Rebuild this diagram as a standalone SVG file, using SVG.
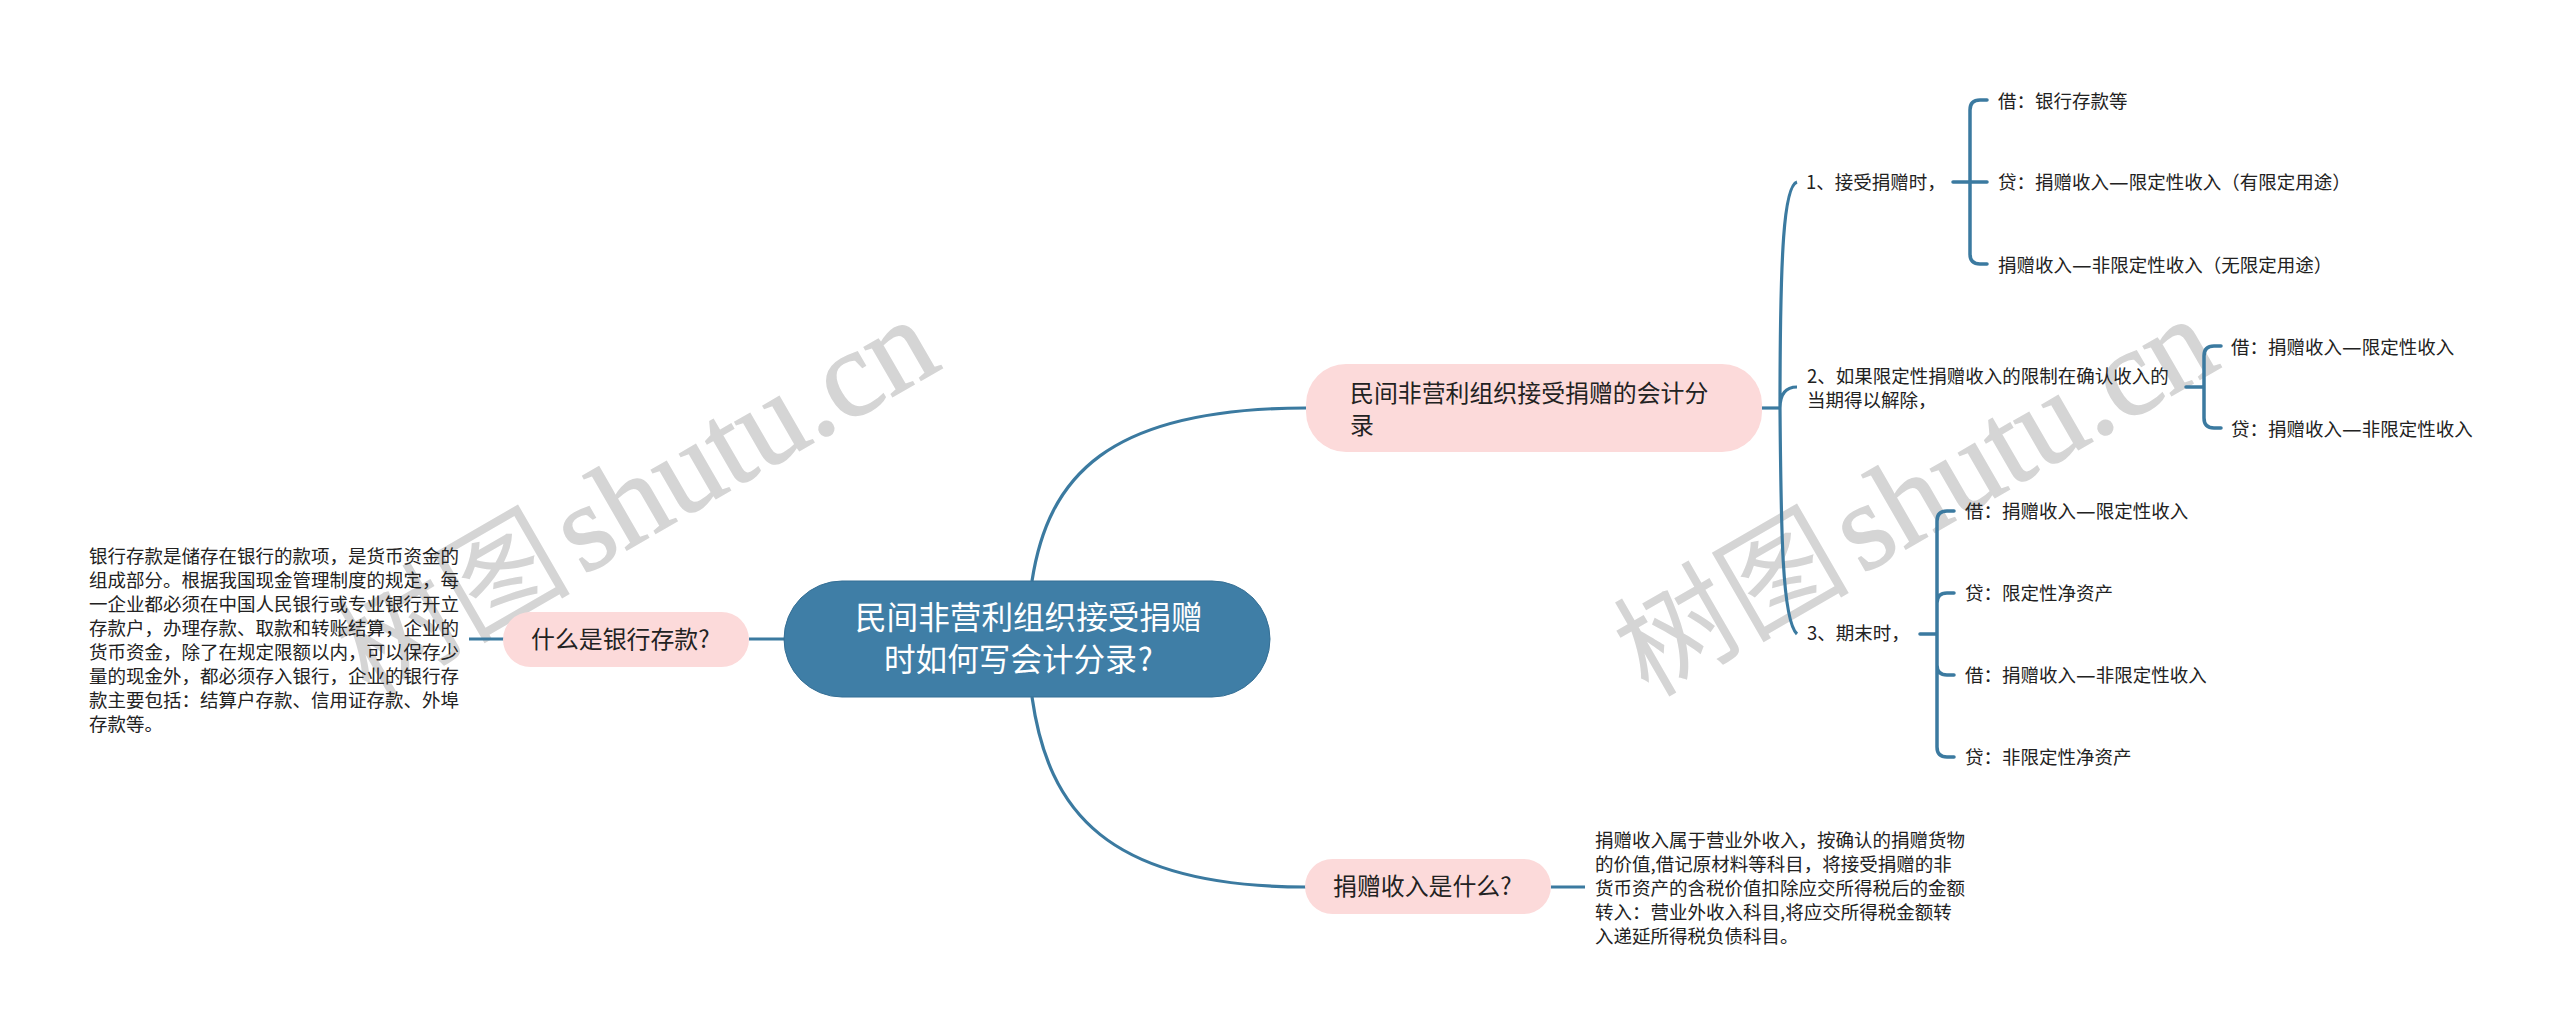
<svg xmlns="http://www.w3.org/2000/svg" width="2560" height="1035" viewBox="0 0 2560 1035">
<style>
text{font-family:"Noto Sans CJK SC","Noto Sans",sans-serif;fill:#222}
.wm{font-family:"Liberation Serif","Noto Sans CJK SC",serif;font-size:124px;fill:#d5d5d5;stroke:#d5d5d5;stroke-width:1.5}
.wc{font-family:"Noto Sans CJK SC",serif;font-size:118px;font-weight:400;stroke-width:0}
.s{font-size:18.5px}
.d{font-size:22px}
.m{font-size:23.9px}
.r{font-size:31.6px;fill:#fff}
.pink{fill:#fcdada}
.c{fill:none;stroke:#3b7aa0;stroke-width:3.2}
.b{stroke-width:3.5;stroke-linecap:round}
</style>
<rect width="2560" height="1035" fill="#fff"/>
<g id="watermarks">
<text class="wm" transform="translate(369 699) rotate(-30)"><tspan class="wc">树图</tspan><tspan dx="11">shutu.cn</tspan></text>
<text class="wm" transform="translate(1648 698) rotate(-30)"><tspan class="wc">树图</tspan><tspan dx="11">shutu.cn</tspan></text>
</g>
<g id="connectors">
<path class="c" d="M1032 581C1048 478 1106 408 1306 408"/>
<path class="c" d="M1032 697C1048 810 1106 887 1306 887"/>
<path class="c" d="M469 639H504M749 639H785"/>
<path class="c" d="M1551 887H1585"/>
<path class="c" d="M1762 408H1780"/>
<path class="c" d="M1797 182C1784 186 1780 250 1780 408C1780 395 1785 387 1797 387M1780 408C1781 530 1782 620 1797 634"/>
<path class="c b" d="M1953 182H1987M1987 100H1980Q1970 100 1970 110V254Q1970 264 1980 264H1987"/>
<path class="c b" d="M2186 387H2204M2221 346H2214Q2204 346 2204 356V418Q2204 428 2214 428H2221"/>
<path class="c b" d="M1920 634H1937M1954 511H1947Q1937 511 1937 521V747Q1937 757 1947 757H1954M1954 593H1947Q1937 593 1937 603M1937 665Q1937 675 1947 675H1954"/>
</g>
<g id="root">
<rect x="784" y="581" width="486" height="116" rx="58" fill="#3f7ea6" stroke="#356f95" stroke-width="1"/>
<text class="r" x="855" y="629">民间非营利组织接受捐赠</text>
<text class="r" x="884" y="671">时如何写会计分录<tspan dx="1">?</tspan></text>
</g>
<g id="node-bank">
<rect class="pink" x="503" y="612" width="246" height="55" rx="27.5"/>
<text class="m" x="531" y="648">什么是银行存款?</text>
</g>
<g id="node-bank-detail">
<text class="s" x="89" y="562.500">银行存款是储存在银行的款项，是货币资金的</text>
<text class="s" x="89" y="586.500">组成部分。根据我国现金管理制度的规定，每</text>
<text class="s" x="89" y="610.500">一企业都必须在中国人民银行或专业银行开立</text>
<text class="s" x="89" y="634.500">存款户，办理存款、取款和转账结算，企业的</text>
<text class="s" x="89" y="658.500">货币资金，除了在规定限额以内，可以保存少</text>
<text class="s" x="89" y="682.500">量的现金外，都必须存入银行，企业的银行存</text>
<text class="s" x="89" y="706.500">款主要包括：结算户存款、信用证存款、外埠</text>
<text class="s" x="89" y="730.500">存款等。</text>
</g>
<g id="node-accounting">
<rect class="pink" x="1306" y="364" width="456" height="88" rx="40"/>
<text class="m" x="1350" y="402">民间非营利组织接受捐赠的会计分</text>
<text class="m" x="1350" y="434">录</text>
</g>
<g id="node-income">
<rect class="pink" x="1305" y="859" width="246" height="55" rx="27.500"/>
<text class="m" x="1333" y="895">捐赠收入是什么?</text>
</g>
<g id="node-income-detail">
<text class="s" x="1595" y="846.500">捐赠收入属于营业外收入，按确认的捐赠货物</text>
<text class="s" x="1595" y="870.500">的价值,借记原材料等科目，将接受捐赠的非</text>
<text class="s" x="1595" y="894.500">货币资产的含税价值扣除应交所得税后的金额</text>
<text class="s" x="1595" y="918.500">转入：营业外收入科目,将应交所得税金额转</text>
<text class="s" x="1595" y="942.500">入递延所得税负债科目。</text>
</g>
<g id="step-1"><text class="s" x="1806" y="189">1、接受捐赠时，</text></g>
<g id="step-1-a"><text class="s" x="1998" y="108">借：银行存款等</text></g>
<g id="step-1-b"><text class="s" x="1998" y="189">贷：捐赠收入<tspan class="d" dy="1.4">—</tspan><tspan dy="-1.4">限定性收入（有限定用途）</tspan></text></g>
<g id="step-1-c"><text class="s" x="1998" y="271.500">捐赠收入<tspan class="d" dy="1.4">—</tspan><tspan dy="-1.4">非限定性收入（无限定用途）</tspan></text></g>
<g id="step-2">
<text class="s" x="1807" y="382.500">2、如果限定性捐赠收入的限制在确认收入的</text>
<text class="s" x="1807" y="406.500">当期得以解除，</text>
</g>
<g id="step-2-a"><text class="s" x="2231" y="353.500">借：捐赠收入<tspan class="d" dy="1.4">—</tspan><tspan dy="-1.4">限定性收入</tspan></text></g>
<g id="step-2-b"><text class="s" x="2231" y="435.500">贷：捐赠收入<tspan class="d" dy="1.4">—</tspan><tspan dy="-1.4">非限定性收入</tspan></text></g>
<g id="step-3"><text class="s" x="1807" y="640">3、期末时，</text></g>
<g id="step-3-a"><text class="s" x="1965" y="517.500">借：捐赠收入<tspan class="d" dy="1.4">—</tspan><tspan dy="-1.4">限定性收入</tspan></text></g>
<g id="step-3-b"><text class="s" x="1965" y="599.500">贷：限定性净资产</text></g>
<g id="step-3-c"><text class="s" x="1965" y="681.500">借：捐赠收入<tspan class="d" dy="1.4">—</tspan><tspan dy="-1.4">非限定性收入</tspan></text></g>
<g id="step-3-d"><text class="s" x="1965" y="763.500">贷：非限定性净资产</text></g>
</svg>
